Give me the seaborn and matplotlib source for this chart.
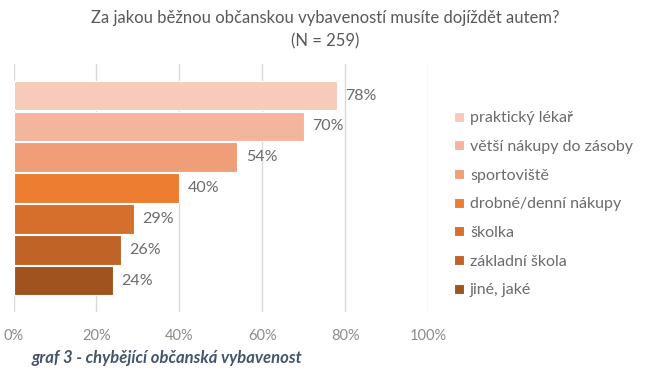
import pandas as pd
import matplotlib.pyplot as plt
import seaborn as sns

categories = ['praktický lékař', 'větší nákupy do zásoby', 'sportoviště',
              'drobné/denní nákupy', 'školka', 'základní škola', 'jiné, jaké']
values = [78, 70, 54, 40, 29, 26, 24]
colors = ['#F7CBBC', '#F3B59C', '#EF9E77', '#ED7D31', '#D66F2B', '#BF6327', '#A0521F']
xticks = [0, 20, 40, 60, 80, 100]

df = pd.DataFrame({'kategorie': categories, 'podil': values})

sns.set_style('white')
plt.rcParams['font.family'] = ['Lato', 'DejaVu Sans']

fig = plt.figure(figsize=(6.51, 3.77), dpi=100)
ax = fig.add_axes([13.5 / 651, 0.172, 414.5 / 651, 0.658])

sns.barplot(
    data=df, x='podil', y='kategorie', hue='kategorie',
    palette=colors, dodge=False, width=0.96, saturation=1,
    edgecolor='white', linewidth=0.8, legend=True, ax=ax
)

for cont in ax.containers:
    ax.bar_label(cont, labels=[f'{v:.0f}%' for v in cont.datavalues],
                 padding=6, fontsize=11.5, color='#6b6b6b')

ax.set_xlim(0, 100)
ax.set_ylim(6 + 1.02, -1.02)
ax.set_xticks(xticks)
ax.set_xticklabels([f'{t}%' for t in xticks], fontsize=10.5, color='#8c8c8c')
ax.tick_params(axis='x', length=0, pad=12)
ax.set_yticks([])
ax.set_xlabel('')
ax.set_ylabel('')
ax.grid(axis='x', color='#d9d9d9', linewidth=1)
ax.set_axisbelow(True)
sns.despine(ax=ax, left=True, bottom=True)

sns.move_legend(
    ax, 'upper left', bbox_to_anchor=(1.028, 0.868), frameon=False, title=None,
    fontsize=11.5, labelcolor='#6b6b6b', handlelength=0.6, handleheight=0.6,
    handletextpad=0.4, labelspacing=0.92
)

fig.text(0.5, 0.953, 'Za jakou běžnou občanskou vybaveností musíte dojíždět autem?',
         ha='center', va='center', fontsize=12, color='#595959')
fig.text(0.5, 0.891, '(N = 259)', ha='center', va='center', fontsize=12, color='#595959')
fig.text(32 / 651, 1 - 358 / 377, 'graf 3 - chybějící občanská vybavenost',
         ha='left', va='center', fontsize=12, color='#44546A', style='italic', weight='bold')

fig.savefig('out.png', dpi=100)
